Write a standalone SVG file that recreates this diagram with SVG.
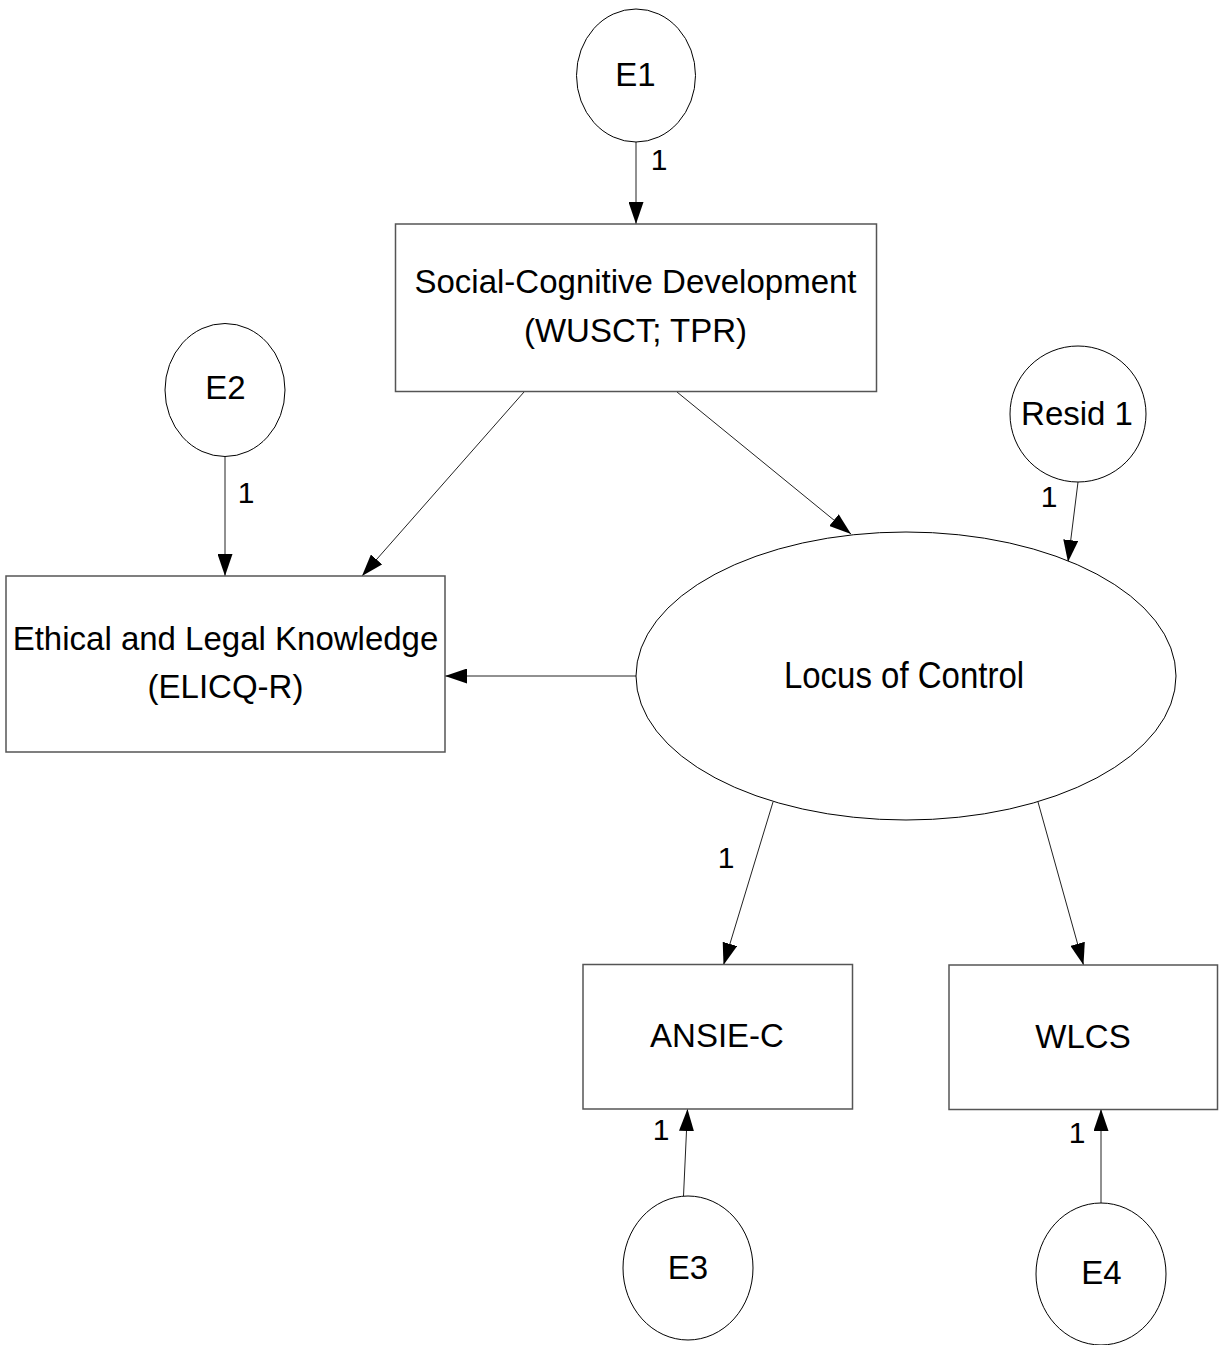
<svg xmlns="http://www.w3.org/2000/svg" width="1225" height="1345" viewBox="0 0 1225 1345">
<style>
.box{fill:#fff;stroke:#555;stroke-width:1.5}
.lat{fill:#fff;stroke:#000;stroke-width:1}
.t{font-family:"Liberation Sans",Arial,sans-serif;font-size:33px;fill:#000;text-anchor:middle}
.w{font-family:"Liberation Sans",Arial,sans-serif;font-size:30px;fill:#000;text-anchor:middle}
.c{stroke:#222;stroke-width:1;fill:none;marker-end:url(#ah)}
</style>
<defs>
<marker id="ah" markerUnits="userSpaceOnUse" markerWidth="22" markerHeight="15" refX="22" refY="7.5" orient="auto">
<path d="M0,0 L22,7.5 L0,15 z" fill="#000"/>
</marker>
</defs>
<rect width="1225" height="1345" fill="#fff"/>
<g id="connectors">
<line class="c" x1="636" y1="142" x2="636" y2="224"/>
<line class="c" x1="225" y1="457" x2="225" y2="576"/>
<line class="c" x1="524" y1="392" x2="362" y2="576"/>
<line class="c" x1="677" y1="392" x2="851" y2="534"/>
<line class="c" x1="1078" y1="482" x2="1068" y2="562"/>
<line class="c" x1="636" y1="676" x2="445" y2="676"/>
<line class="c" x1="773" y1="802" x2="723.5" y2="965"/>
<line class="c" x1="1038" y1="802" x2="1083.5" y2="965"/>
<line class="c" x1="683.5" y1="1196" x2="687.5" y2="1109"/>
<line class="c" x1="1101" y1="1203" x2="1101" y2="1109"/>
<text class="w" x="659" y="170">1</text>
<text class="w" x="246" y="503">1</text>
<text class="w" x="1049" y="507">1</text>
<text class="w" x="726" y="868">1</text>
<text class="w" x="661" y="1140">1</text>
<text class="w" x="1077" y="1143">1</text>
</g>
<g id="E1">
<ellipse class="lat" cx="636" cy="75.5" rx="59.5" ry="66.5"/>
<text class="t" x="635.5" y="86">E1</text>
</g>
<g id="SCD">
<rect class="box" x="395.5" y="224" width="481" height="167.5"/>
<text class="t" x="635.5" y="293">Social-Cognitive Development</text>
<text class="t" x="635.5" y="341.5">(WUSCT; TPR)</text>
</g>
<g id="E2">
<ellipse class="lat" cx="225" cy="390" rx="60" ry="66.5"/>
<text class="t" x="225.5" y="399">E2</text>
</g>
<g id="ELK">
<rect class="box" x="6" y="576" width="439" height="176"/>
<text class="t" x="225.5" y="650">Ethical and Legal Knowledge</text>
<text class="t" x="225.5" y="698">(ELICQ-R)</text>
</g>
<g id="Resid1">
<ellipse class="lat" cx="1078" cy="414" rx="68" ry="68"/>
<text class="t" x="1077" y="425">Resid 1</text>
</g>
<g id="LOC">
<ellipse class="lat" cx="906" cy="676" rx="270" ry="144"/>
<text class="t" transform="translate(904,688) scale(1,1.1)" x="0" y="0">Locus of Control</text>
</g>
<g id="ANSIE">
<rect class="box" x="583" y="964.5" width="269.5" height="144.5"/>
<text class="t" x="717" y="1047">ANSIE-C</text>
</g>
<g id="WLCS">
<rect class="box" x="949" y="965" width="268.5" height="144.5"/>
<text class="t" x="1083" y="1047.5">WLCS</text>
</g>
<g id="E3">
<ellipse class="lat" cx="688" cy="1268" rx="65" ry="72"/>
<text class="t" x="688" y="1279">E3</text>
</g>
<g id="E4">
<ellipse class="lat" cx="1101" cy="1274" rx="65" ry="71"/>
<text class="t" x="1101.5" y="1284">E4</text>
</g>
</svg>
